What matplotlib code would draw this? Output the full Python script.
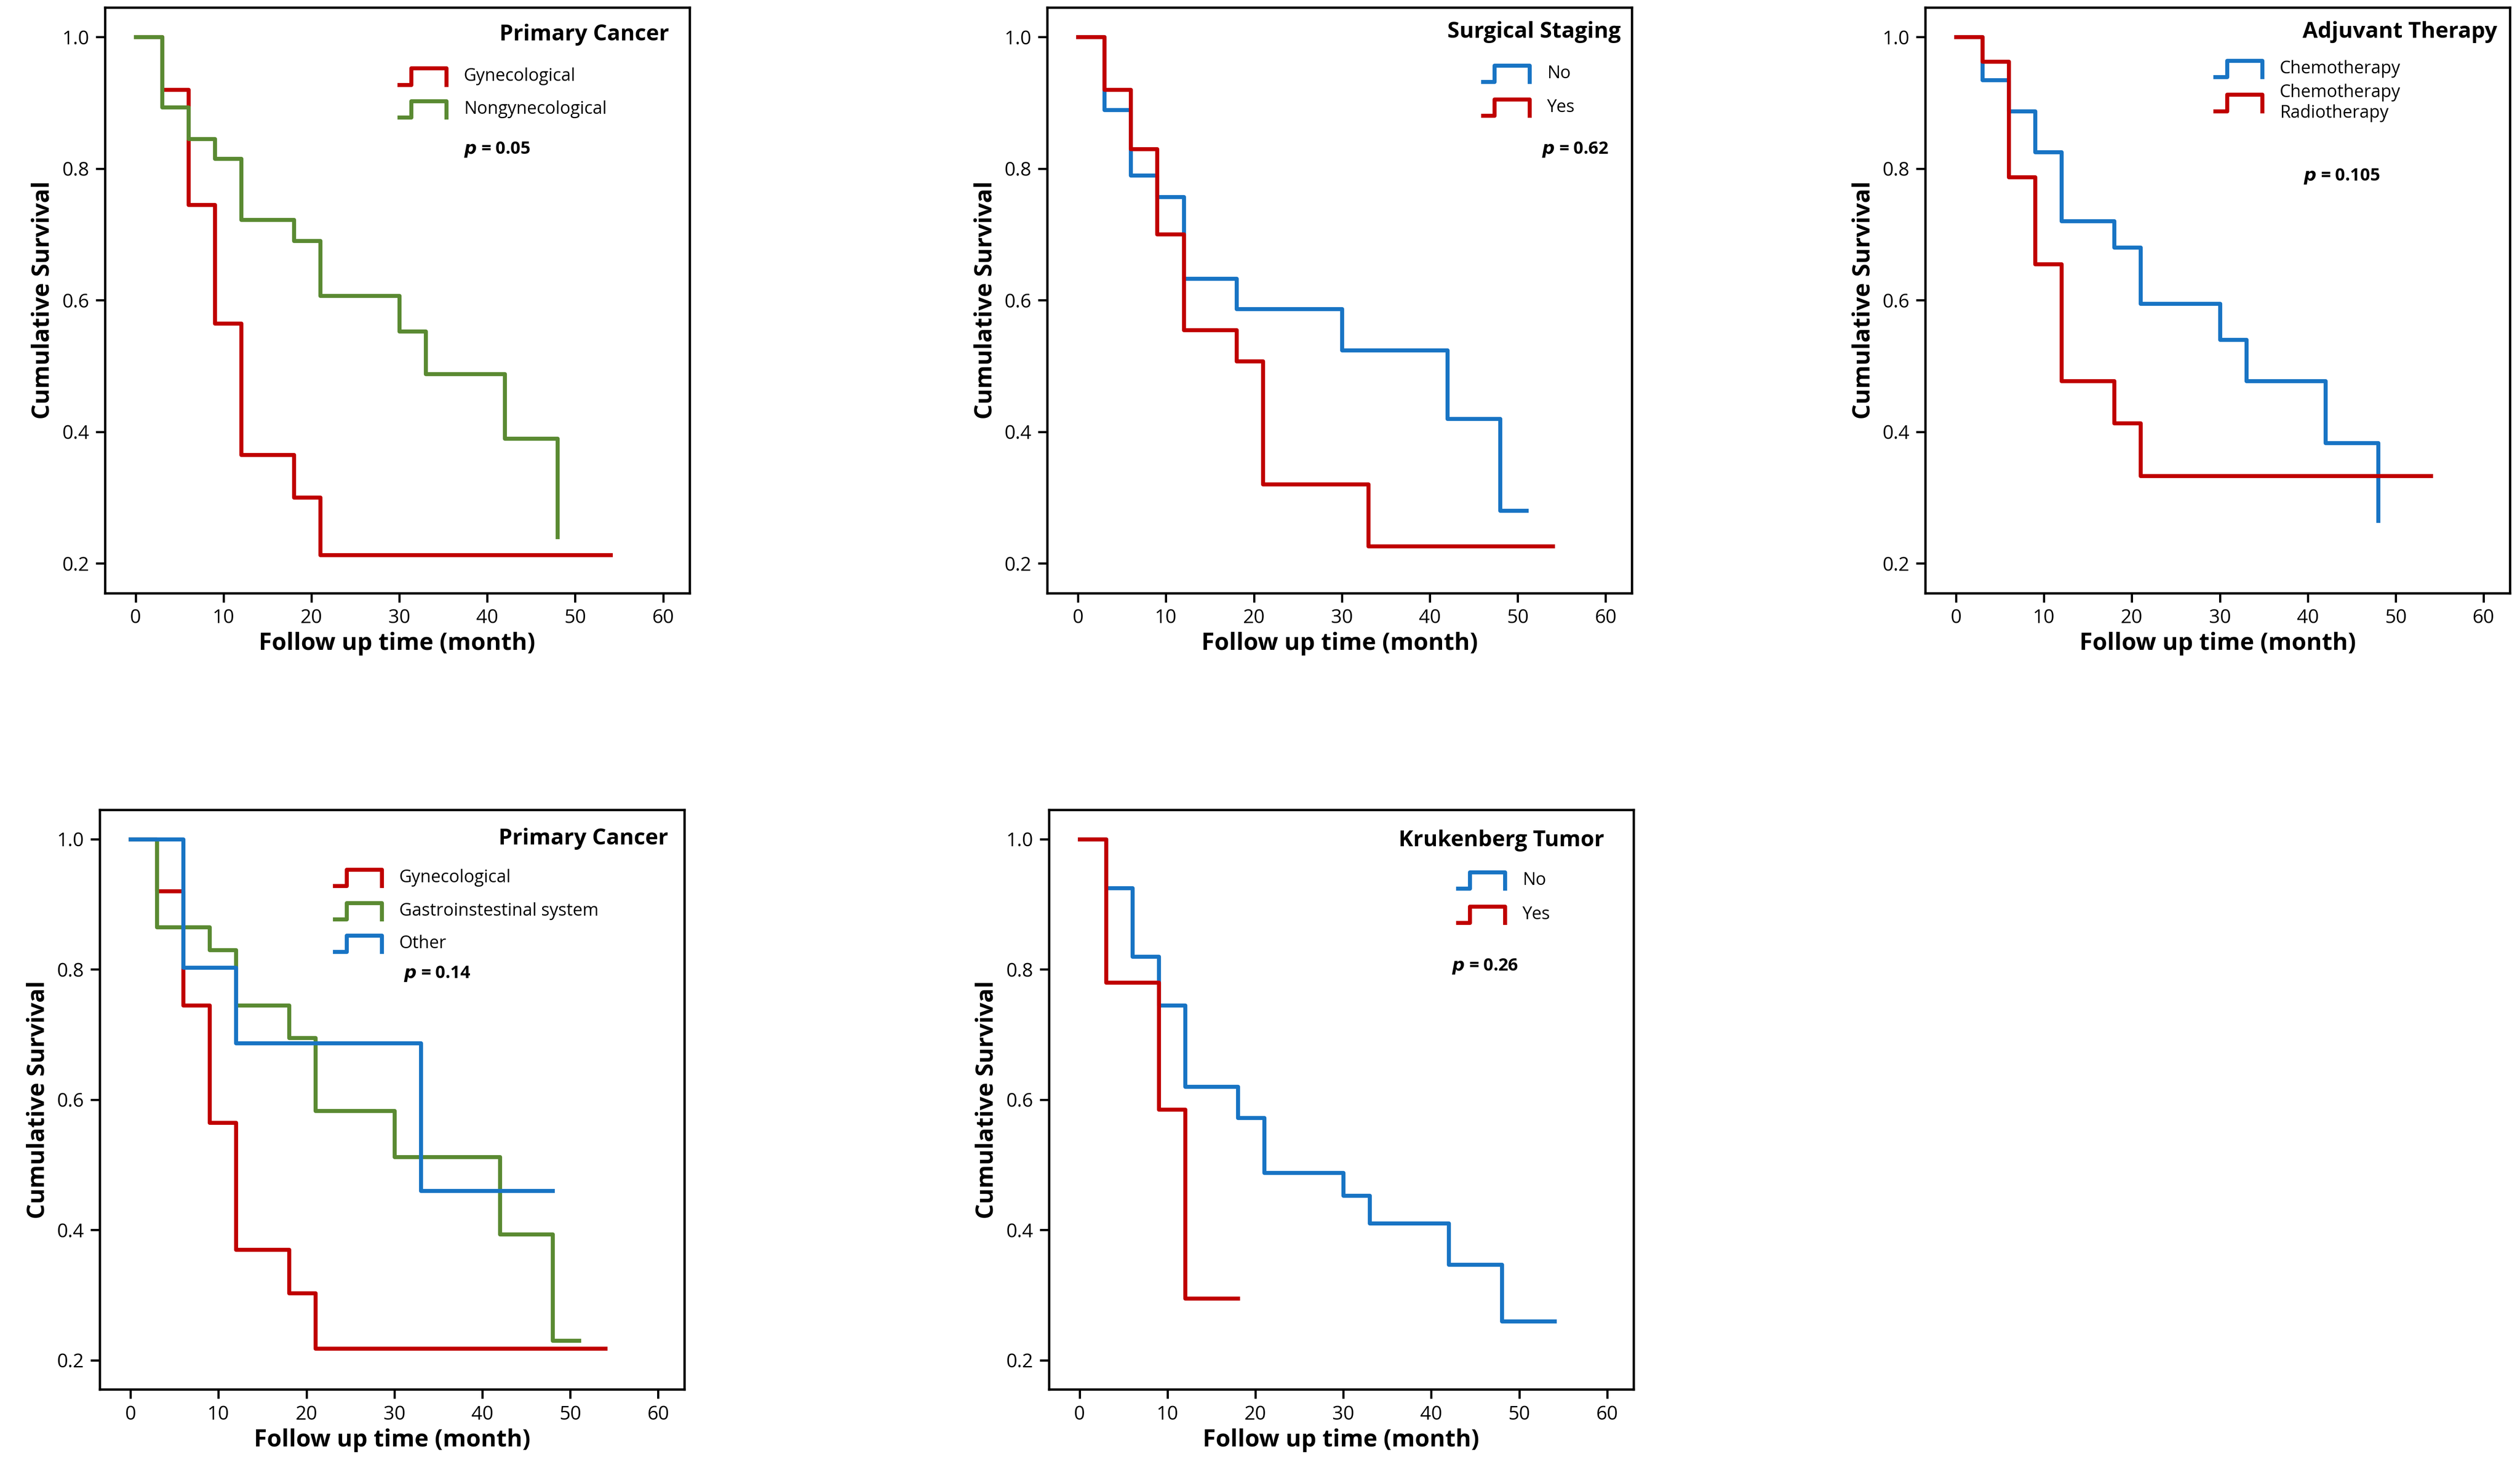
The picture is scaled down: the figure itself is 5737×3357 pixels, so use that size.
import numpy as np
import matplotlib.pyplot as plt

plt.rcParams['font.family'] = ['Open Sans', 'DejaVu Sans']

RED = "#c00000"
GREEN = "#5a8a32"
BLUE = "#1874c4"

# ---------------------------
# Survival data (step starts, value held until next time)
# ---------------------------
p1_gyn_t = [0, 3, 6, 9, 12, 18, 21, 54]
p1_gyn_s = [1.0, 0.92, 0.745, 0.565, 0.365, 0.30, 0.213, 0.213]
p1_non_t = [0, 3, 6, 9, 12, 18, 21, 30, 33, 42, 48, 48]
p1_non_s = [1.0, 0.893, 0.845, 0.815, 0.722, 0.69, 0.607, 0.553, 0.488, 0.39, 0.24, 0.24]

p2_no_t = [0, 3, 6, 9, 12, 18, 30, 42, 48, 51]
p2_no_s = [1.0, 0.889, 0.79, 0.757, 0.633, 0.587, 0.524, 0.42, 0.28, 0.28]
p2_yes_t = [0, 3, 6, 9, 12, 18, 21, 33, 54]
p2_yes_s = [1.0, 0.92, 0.83, 0.70, 0.555, 0.507, 0.32, 0.226, 0.226]

p3_chemo_t = [0, 3, 6, 9, 12, 18, 21, 30, 33, 42, 48, 48]
p3_chemo_s = [1.0, 0.935, 0.887, 0.825, 0.72, 0.68, 0.595, 0.54, 0.477, 0.383, 0.265, 0.265]
p3_radio_t = [0, 3, 6, 9, 12, 18, 21, 54]
p3_radio_s = [1.0, 0.963, 0.787, 0.655, 0.477, 0.413, 0.333, 0.333]

p4_gyn_t = [0, 3, 6, 9, 12, 18, 21, 54]
p4_gyn_s = [1.0, 0.92, 0.745, 0.565, 0.37, 0.303, 0.218, 0.218]
p4_gi_t = [0, 3, 9, 12, 18, 21, 30, 42, 48, 51]
p4_gi_s = [1.0, 0.865, 0.83, 0.745, 0.695, 0.583, 0.512, 0.393, 0.23, 0.23]
p4_oth_t = [0, 6, 12, 33, 48]
p4_oth_s = [1.0, 0.803, 0.687, 0.46, 0.46]

p5_no_t = [0, 3, 6, 9, 12, 18, 21, 30, 33, 42, 48, 54]
p5_no_s = [1.0, 0.925, 0.82, 0.745, 0.62, 0.572, 0.488, 0.453, 0.41, 0.347, 0.26, 0.26]
p5_yes_t = [0, 3, 9, 12, 18]
p5_yes_s = [1.0, 0.78, 0.585, 0.295, 0.295]


def legend_entry(ax, x, y, color, label):
    w, h = 0.08, 0.028
    ax.plot([x, x + 0.25 * w, x + 0.25 * w, x + w, x + w],
            [y - h / 2, y - h / 2, y + h / 2, y + h / 2, y - h / 2],
            color=color, lw=2.2, transform=ax.transAxes, clip_on=False)
    ax.text(x + w + 0.03, y, label, transform=ax.transAxes, fontsize=9.5,
            va="center", ha="left")


def setup(ax):
    ax.set_xlim(-3.5, 63)
    ax.set_ylim(0.155, 1.045)
    ax.set_xticks(range(0, 61, 10))
    ax.set_yticks([0.2, 0.4, 0.6, 0.8, 1.0])
    ax.set_yticklabels(["0.2", "0.4", "0.6", "0.8", "1.0"])
    ax.tick_params(labelsize=10.5, direction="out", length=5, width=1.2)
    for s in ax.spines.values():
        s.set_linewidth(1.3)
    ax.set_xlabel("Follow up time (month)", fontsize=13, fontweight="bold", labelpad=2)
    ax.set_ylabel("Cumulative Survival", fontsize=13, fontweight="bold")


fig = plt.figure(figsize=(5737 / 300, 3357 / 300), dpi=300)
W = 0.232
ax1 = fig.add_axes([0.0416, 0.598, W, 0.397])
ax2 = fig.add_axes([0.4156, 0.598, W, 0.397])
ax3 = fig.add_axes([0.764, 0.598, W, 0.397])
ax4 = fig.add_axes([0.0396, 0.058, W, 0.393])
ax5 = fig.add_axes([0.4162, 0.058, W, 0.393])

# Panel 1
ax1.step(p1_gyn_t, p1_gyn_s, where="post", color=RED, lw=2.2)
ax1.step(p1_non_t, p1_non_s, where="post", color=GREEN, lw=2.2)
setup(ax1)
ax1.text(0.965, 0.953, "Primary Cancer", transform=ax1.transAxes, ha="right",
         va="center", fontsize=12, fontweight="bold")
legend_entry(ax1, 0.504, 0.882, RED, "Gynecological")
legend_entry(ax1, 0.504, 0.826, GREEN, "Nongynecological")
ax1.text(0.614, 0.757, r"$\bfit{p}$ = 0.05", transform=ax1.transAxes,
         fontsize=9.5, fontweight="bold", va="center")

# Panel 2
ax2.step(p2_no_t, p2_no_s, where="post", color=BLUE, lw=2.2)
ax2.step(p2_yes_t, p2_yes_s, where="post", color=RED, lw=2.2)
setup(ax2)
ax2.text(0.981, 0.958, "Surgical Staging", transform=ax2.transAxes, ha="right",
         va="center", fontsize=12, fontweight="bold")
legend_entry(ax2, 0.745, 0.887, BLUE, "No")
legend_entry(ax2, 0.745, 0.829, RED, "Yes")
ax2.text(0.96, 0.757, r"$\bfit{p}$ = 0.62", transform=ax2.transAxes, ha="right",
         fontsize=9.5, fontweight="bold", va="center")

# Panel 3
ax3.step(p3_chemo_t, p3_chemo_s, where="post", color=BLUE, lw=2.2)
ax3.step(p3_radio_t, p3_radio_s, where="post", color=RED, lw=2.2)
setup(ax3)
ax3.text(0.978, 0.958, "Adjuvant Therapy", transform=ax3.transAxes, ha="right",
         va="center", fontsize=12, fontweight="bold")
legend_entry(ax3, 0.496, 0.895, BLUE, "Chemotherapy")
legend_entry(ax3, 0.496, 0.837, RED, "Chemotherapy\nRadiotherapy")
ax3.text(0.712, 0.711, r"$\bfit{p}$ = 0.105", transform=ax3.transAxes, ha="center",
         fontsize=9.5, fontweight="bold", va="center")

# Panel 4
ax4.step(p4_gyn_t, p4_gyn_s, where="post", color=RED, lw=2.2)
ax4.step(p4_gi_t, p4_gi_s, where="post", color=GREEN, lw=2.2)
ax4.step(p4_oth_t, p4_oth_s, where="post", color=BLUE, lw=2.2)
setup(ax4)
ax4.text(0.972, 0.95, "Primary Cancer", transform=ax4.transAxes, ha="right",
         va="center", fontsize=12, fontweight="bold")
legend_entry(ax4, 0.402, 0.883, RED, "Gynecological")
legend_entry(ax4, 0.402, 0.825, GREEN, "Gastroinstestinal system")
legend_entry(ax4, 0.402, 0.769, BLUE, "Other")
ax4.text(0.52, 0.717, r"$\bfit{p}$ = 0.14", transform=ax4.transAxes,
         fontsize=9.5, fontweight="bold", va="center")

# Panel 5
ax5.step(p5_no_t, p5_no_s, where="post", color=BLUE, lw=2.2)
ax5.step(p5_yes_t, p5_yes_s, where="post", color=RED, lw=2.2)
setup(ax5)
ax5.text(0.95, 0.947, "Krukenberg Tumor", transform=ax5.transAxes, ha="right",
         va="center", fontsize=12, fontweight="bold")
legend_entry(ax5, 0.70, 0.878, BLUE, "No")
legend_entry(ax5, 0.70, 0.819, RED, "Yes")
ax5.text(0.689, 0.73, r"$\bfit{p}$ = 0.26", transform=ax5.transAxes,
         fontsize=9.5, fontweight="bold", va="center")

fig.savefig("out.png", dpi=300)
